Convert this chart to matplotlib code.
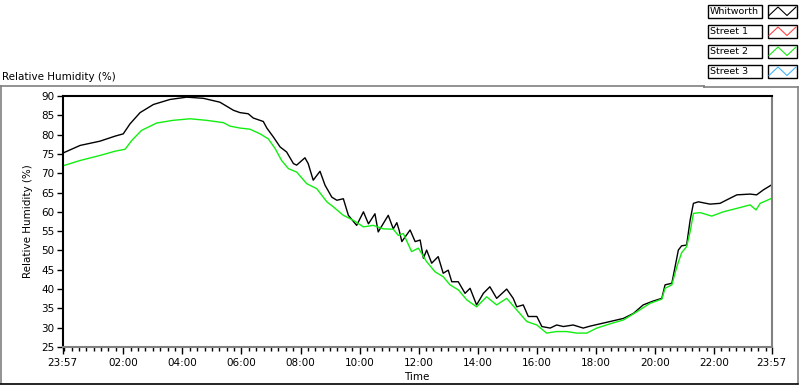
import matplotlib
matplotlib.use("Agg")
import matplotlib.pyplot as plt
from matplotlib.patches import Rectangle
from matplotlib.lines import Line2D

# hours elapsed since 23:57 (start of the record)
t_whit = [0.00, 0.59, 1.26, 1.77, 2.05, 2.28, 2.62, 3.07, 3.63, 4.20, 4.76, 5.32,
          5.78, 6.00, 6.28, 6.45, 6.79, 6.91, 7.13, 7.36, 7.58, 7.81, 7.92, 8.20,
          8.31, 8.48, 8.71, 8.88, 9.11, 9.28, 9.50, 9.67, 9.95, 10.18, 10.35, 10.57,
          10.68, 11.02, 11.19, 11.31, 11.39, 11.48, 11.76, 11.93, 12.10, 12.21, 12.32,
          12.49, 12.71, 12.88, 13.05, 13.17, 13.39, 13.62, 13.79, 14.01, 14.24, 14.46,
          14.69, 15.03, 15.25, 15.37, 15.59, 15.76, 16.05, 16.22, 16.50, 16.72, 16.95,
          17.28, 17.62, 17.85, 18.19, 18.53, 18.98, 19.32, 19.65, 19.99, 20.28, 20.39,
          20.62, 20.73, 20.84, 20.95, 21.12, 21.24, 21.35, 21.52, 21.91, 22.25, 22.48,
          22.82, 23.27, 23.49, 23.72, 24.00]
rh_whit = [75.2, 77.2, 78.3, 79.6, 80.2, 82.8, 85.7, 87.8, 89.1, 89.7, 89.4, 88.4,
           86.3, 85.7, 85.4, 84.3, 83.4, 81.7, 79.4, 76.8, 75.5, 72.5, 72.1, 74.0,
           72.5, 68.2, 70.5, 66.9, 63.8, 63.0, 63.4, 59.1, 56.5, 60.0, 56.9, 59.5,
           54.8, 59.1, 55.6, 57.2, 55.2, 52.3, 55.3, 52.3, 52.7, 48.0, 50.1,
           46.7, 48.4, 44.1, 44.9, 41.9, 41.9, 38.9, 40.2, 35.9, 38.9, 40.6,
           37.6, 40.0, 37.6, 35.4, 35.9, 32.9, 32.9, 30.3, 29.9, 30.7, 30.3,
           30.7, 29.9, 30.4, 31.0, 31.6, 32.4, 33.7, 35.9, 36.9, 37.6, 41.1,
           41.5, 45.8, 50.1, 51.2, 51.4, 57.9, 62.2, 62.6, 62.0, 62.2, 63.1,
           64.4, 64.6, 64.4, 65.7, 67.0]

t_st2 = [0.00, 0.59, 1.26, 1.77, 2.11, 2.34, 2.67, 3.18, 3.74, 4.31, 4.87, 5.44,
         5.66, 6.00, 6.34, 6.68, 6.96, 7.19, 7.41, 7.64, 7.92, 8.26, 8.60, 8.94,
         9.16, 9.50, 9.84, 10.18, 10.51, 10.85, 11.19, 11.36, 11.53, 11.81, 12.04,
         12.32, 12.60, 12.88, 13.11, 13.39, 13.68, 14.01, 14.35, 14.69, 15.03, 15.37,
         15.71, 16.05, 16.38, 16.72, 17.06, 17.40, 17.74, 18.08, 18.53, 18.98, 19.43,
         19.88, 20.28, 20.39, 20.62, 20.79, 20.95, 21.12, 21.24, 21.35, 21.58, 21.97,
         22.36, 22.82, 23.27, 23.47, 23.61, 24.00]
rh_st2 = [71.9, 73.3, 74.6, 75.7, 76.2, 78.5, 81.1, 83.0, 83.7, 84.1, 83.7, 83.1,
          82.2, 81.7, 81.4, 80.2, 78.9, 76.4, 73.3, 71.2, 70.3, 67.3, 66.0, 62.6,
          61.3, 59.1, 57.8, 56.1, 56.5, 55.6, 55.5, 53.9, 54.4, 49.7, 50.6,
          47.1, 44.5, 43.2, 41.1, 39.8, 37.2, 35.4, 38.0, 35.9, 37.6, 34.6,
          31.6, 30.7, 28.6, 29.0, 29.0, 28.6, 28.6, 29.9, 31.0, 32.0, 34.1,
          36.3, 37.4, 40.2, 41.1, 45.8, 49.4, 51.0, 54.9, 59.6, 59.8, 58.9,
          60.0, 60.9, 61.8, 60.5, 62.2, 63.5]

x_major = [0, 2.05, 4.05, 6.05, 8.05, 10.05, 12.05, 14.05, 16.05, 18.05, 20.05, 22.05, 24]
x_labels = ["23:57", "02:00", "04:00", "06:00", "08:00", "10:00", "12:00",
            "14:00", "16:00", "18:00", "20:00", "22:00", "23:57"]
y_ticks = [25, 30, 35, 40, 45, 50, 55, 60, 65, 70, 75, 80, 85, 90]

legend_names = ["Whitworth", "Street 1", "Street 2", "Street 3"]
legend_colors = ["#000000", "#ff4444", "#11ee11", "#44b4ff"]

W, H = 800, 386
fs = 7.5
plt.rcParams['font.family'] = ['DejaVu Sans']

fig = plt.figure(figsize=(W / 100, H / 100), dpi=100)
fig.patch.set_facecolor("white")

def fx(x):
    return x / W

def fy(y):
    return 1 - y / H

ax = fig.add_axes([fx(62.7), fy(347), fx(771.7) - fx(62.7), fy(96) - fy(347)])
ax.plot(t_whit, rh_whit, color=legend_colors[0], lw=1.0)
ax.plot(t_st2, rh_st2, color=legend_colors[2], lw=1.0)
ax.set_xlim(0, 24)
ax.set_ylim(25, 90)

ax.set_yticks(y_ticks)
ax.set_yticklabels([str(v) for v in y_ticks], fontsize=fs)
ax.set_xticks(x_major)
ax.set_xticklabels(x_labels, fontsize=fs)
ax.set_xticks([0.05 + 0.25 * k for k in range(96)], minor=True)
ax.tick_params(axis="x", which="major", length=5, width=1, pad=3)
ax.tick_params(axis="x", which="minor", length=3, width=1)
ax.tick_params(axis="y", length=4, width=1, pad=2)

for side in ["top", "left"]:
    ax.spines[side].set_color("black")
    ax.spines[side].set_linewidth(1.5)
for side in ["right", "bottom"]:
    ax.spines[side].set_color("#808080")
    ax.spines[side].set_linewidth(1.5)

ax.set_xlabel("Time", fontsize=fs, labelpad=3)
ax.set_ylabel("Relative Humidity (%)", fontsize=fs, labelpad=6)

fig.text(fx(2), fy(77), "Relative Humidity (%)", fontsize=fs, va="center", ha="left")

# panel borders
grey = "#808080"
fig.add_artist(Line2D([fx(0), fx(704)], [fy(85.5), fy(85.5)], color=grey, lw=1.2))
fig.add_artist(Line2D([fx(704), fx(704)], [fy(85.5), fy(87)], color=grey, lw=1.2))
fig.add_artist(Line2D([fx(704), fx(798)], [fy(87), fy(87)], color=grey, lw=1.2))
fig.add_artist(Line2D([fx(797.5), fx(797.5)], [fy(87), fy(383)], color=grey, lw=1.2))
fig.add_artist(Line2D([fx(0.5), fx(0.5)], [fy(85.5), fy(383)], color=grey, lw=1.2))
fig.add_artist(Line2D([fx(0), fx(798)], [fy(383.5), fy(383.5)], color="black", lw=1.2))

# legend
for i, (name, col) in enumerate(zip(legend_names, legend_colors)):
    top = 5 + 20 * i
    fig.add_artist(Rectangle((fx(708), fy(top + 13)), fx(54), fx(13) * W / H,
                             transform=fig.transFigure, fill=False, ec="black", lw=1))
    fig.text(fx(710), fy(top + 6.8), name, fontsize=6.8, va="center", ha="left")
    fig.add_artist(Rectangle((fx(768), fy(top + 13)), fx(29), fx(13) * W / H,
                             transform=fig.transFigure, fill=False, ec="black", lw=1))
    fig.add_artist(Line2D([fx(769), fx(778), fx(787), fx(796)],
                          [fy(top + 10.5), fy(top + 2), fy(top + 10.5), fy(top + 2)],
                          color=col, lw=0.8))

fig.savefig("out.png", dpi=100)
